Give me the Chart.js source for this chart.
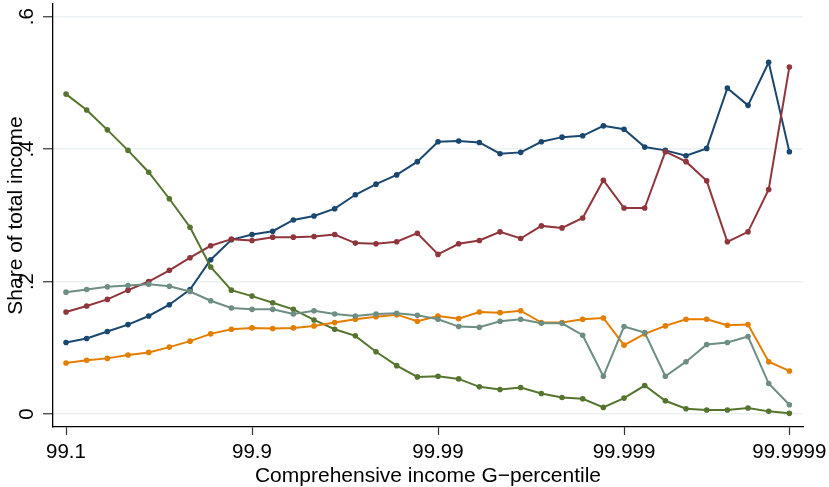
<!DOCTYPE html>
<html>
<head>
<meta charset="utf-8">
<script src="https://cdn.jsdelivr.net/npm/chart.js@4.4.0/dist/chart.umd.min.js"></script>
<style>
  html, body { margin: 0; padding: 0; background: #fff; overflow: hidden; }
  canvas { display: block; }
</style>
</head>
<body>
<canvas id="grafico" width="829" height="487"></canvas>
<script>
// position of each G-percentile step along the axis (36 steps)
const steps = [0,1,2,3,4,5,6,7,8,9,10,11,12,13,14,15,16,17,18,19,20,21,22,23,24,25,26,27,28,29,30,31,32,33,34,35];

const xTickPos = [0, 9, 18, 27, 35];
const xTickLabels = ['99.1', '99.9', '99.99', '99.999', '99.9999'];
const yTickValues = [0, 0.2, 0.4, 0.6];
const yTickLabels = ['0', '.2', '.4', '.6'];
const xTitle = 'Comprehensive income G\u2212percentile';
const yTitle = 'Share of total income';

const navySeries = [0.108, 0.114, 0.1245, 0.135, 0.148, 0.165, 0.188, 0.233, 0.263, 0.271,
  0.276, 0.293, 0.299, 0.310, 0.331, 0.347, 0.361, 0.381, 0.411, 0.412,
  0.410, 0.393, 0.395, 0.411, 0.418, 0.420, 0.435, 0.430, 0.403, 0.398,
  0.390, 0.401, 0.492, 0.466, 0.531, 0.396];
const maroonSeries = [0.154, 0.163, 0.173, 0.187, 0.200, 0.217, 0.236, 0.254, 0.264, 0.262,
  0.267, 0.267, 0.268, 0.271, 0.258, 0.257, 0.260, 0.273, 0.241, 0.257,
  0.262, 0.275, 0.265, 0.284, 0.281, 0.296, 0.353, 0.311, 0.311, 0.396,
  0.381, 0.352, 0.260, 0.275, 0.339, 0.524];
const greenSeries = [0.483, 0.459, 0.429, 0.398, 0.365, 0.325, 0.282, 0.222, 0.187, 0.178,
  0.168, 0.158, 0.142, 0.128, 0.118, 0.094, 0.073, 0.056, 0.057, 0.053,
  0.041, 0.037, 0.040, 0.031, 0.025, 0.023, 0.010, 0.024, 0.043, 0.020,
  0.008, 0.006, 0.006, 0.009, 0.004, 0.001];
const orangeSeries = [0.077, 0.081, 0.084, 0.089, 0.093, 0.101, 0.110, 0.121, 0.128, 0.130,
  0.129, 0.130, 0.133, 0.138, 0.143, 0.147, 0.150, 0.140, 0.148, 0.144,
  0.154, 0.153, 0.156, 0.138, 0.138, 0.143, 0.145, 0.104, 0.121, 0.133,
  0.143, 0.143, 0.134, 0.135, 0.079, 0.065];
const tealSeries = [0.184, 0.188, 0.192, 0.194, 0.196, 0.193, 0.185, 0.171, 0.160, 0.158,
  0.158, 0.151, 0.156, 0.151, 0.148, 0.151, 0.152, 0.149, 0.143, 0.132,
  0.131, 0.140, 0.143, 0.137, 0.137, 0.119, 0.057, 0.132, 0.123, 0.057,
  0.079, 0.105, 0.108, 0.117, 0.046, 0.014];

const fonte = '"Liberation Sans", Arial, Helvetica, sans-serif';

function serie(valores, cor, ordem) {
    return {
        data: valores.map((v, i) => ({ x: steps[i], y: v })),
        borderColor: cor,
        backgroundColor: cor,
        pointBackgroundColor: cor,
        pointBorderWidth: 0,
        pointRadius: 2.8,
        borderWidth: 2,
        tension: 0,
        order: ordem
    };
}

// axis texts drawn by hand so they can be rotated like the original
const textoEixos = {
    id: 'textoEixos',
    afterDraw(chart) {
        const ctx = chart.ctx;
        const sx = chart.scales.x;
        const sy = chart.scales.y;
        const area = chart.chartArea;
        ctx.save();
        ctx.fillStyle = '#000';
        ctx.textAlign = 'center';
        ctx.textBaseline = 'alphabetic';
        ctx.font = '20.5px ' + fonte;
        xTickPos.forEach((p, i) => {
            ctx.fillText(xTickLabels[i], sx.getPixelForValue(p), 458);
        });
        yTickValues.forEach((v, i) => {
            ctx.save();
            ctx.translate(33, sy.getPixelForValue(v));
            ctx.rotate(-Math.PI / 2);
            ctx.fillText(yTickLabels[i], 0, 0);
            ctx.restore();
        });
        ctx.font = '21px ' + fonte;
        ctx.fillText(xTitle, (area.left + area.right) / 2, 481.5);
        ctx.translate(22, (area.top + area.bottom) / 2);
        ctx.rotate(-Math.PI / 2);
        ctx.fillText(yTitle, 0, 0);
        ctx.restore();
    }
};

const grafico = document.getElementById('grafico').getContext('2d');

new Chart(grafico, {
    type: 'line',
    data: {
        datasets: [
            serie(navySeries, '#1a476f', 5),
            serie(maroonSeries, '#90353b', 4),
            serie(greenSeries, '#55752f', 3),
            serie(orangeSeries, '#e37e00', 2),
            serie(tealSeries, '#6e8e84', 1)
        ]
    },
    options: {
        responsive: false,
        animation: false,
        devicePixelRatio: 1,
        layout: { padding: { left: 0, right: 26, top: 3, bottom: 0 } },
        plugins: { legend: { display: false }, tooltip: { enabled: false } },
        scales: {
            x: {
                type: 'linear',
                min: -0.63,
                max: 35.66,
                afterBuildTicks: (s) => { s.ticks = xTickPos.map(v => ({ value: v })); },
                afterFit: (s) => { s.height = 60; s.paddingLeft = 0; s.paddingRight = 0; },
                ticks: { display: false },
                grid: { drawOnChartArea: false, tickLength: 8, tickColor: '#333', tickWidth: 1.2 },
                border: { color: '#000', width: 1.3 }
            },
            y: {
                min: -0.0196,
                max: 0.619,
                afterBuildTicks: (s) => { s.ticks = yTickValues.map(v => ({ value: v })); },
                afterFit: (s) => { s.width = 53; s.paddingTop = 0; s.paddingBottom = 0; },
                ticks: { display: false },
                grid: { color: '#eaf2f3', lineWidth: 1.5, tickLength: 10, tickColor: '#333', tickWidth: 1.2 },
                border: { color: '#000', width: 1.3 }
            }
        }
    },
    plugins: [textoEixos]
});
</script>
</body>
</html>
